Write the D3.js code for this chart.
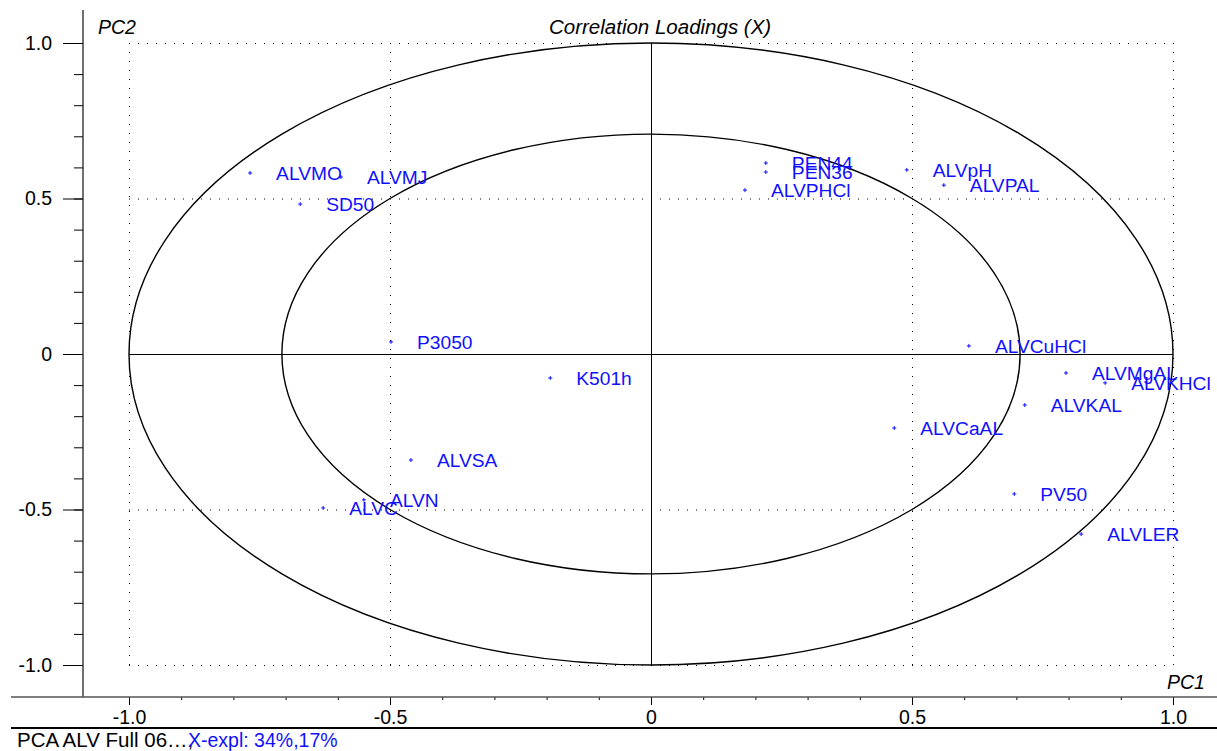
<!DOCTYPE html>
<html>
<head>
<meta charset="utf-8">
<script src="https://cdn.jsdelivr.net/npm/d3@7"></script>
<style>
  html, body { margin: 0; padding: 0; background: #fff; }
  svg { display: block; font-family: "Liberation Sans", Arial, sans-serif; }
</style>
</head>
<body>
<svg id="chart" width="1217" height="751"></svg>
<script>
// ---- data ----
const labels = ["ALVMO","ALVMJ","SD50","PEN44","PEN36","ALVPHCl","ALVpH","ALVPAL","ALVCuHCl","ALVMgAL","ALVKHCl","ALVKAL","ALVCaAL","PV50","ALVLER","P3050","K501h","ALVSA","ALVN","ALVC"];
const pc1 = [-0.768,-0.594,-0.672,0.220,0.220,0.180,0.490,0.561,0.609,0.795,0.870,0.716,0.466,0.696,0.824,-0.498,-0.193,-0.460,-0.550,-0.628];
const pc2 = [0.582,0.569,0.482,0.614,0.585,0.527,0.592,0.543,0.026,-0.061,-0.093,-0.164,-0.238,-0.450,-0.579,0.039,-0.077,-0.341,-0.469,-0.495];
const majorTicks = [-1.0,-0.5,0,0.5,1.0];
const tickLabels = ["-1.0","-0.5","0","0.5","1.0"];
const minorTicks = d3.range(-10, 11).map(d => d / 10);
const ellipseRadii = [1, Math.SQRT1_2];
const title = "Correlation Loadings (X)";
const footerName = "PCA ALV Full 06…,";
const footerExpl = "X-expl: 34%,17%";

// ---- layout ----
const svg = d3.select("#chart");
const x = d3.scaleLinear().domain([-1, 1]).range([129, 1173]);
const y = d3.scaleLinear().domain([-1, 1]).range([665, 43]);
const blue = "#1010ff";
const font = "Liberation Sans, Arial, sans-serif";

// dotted grid
const grid = svg.append("g").attr("stroke", "#000").attr("stroke-width", 1)
  .attr("stroke-dasharray", "1,8").attr("fill", "none");
[-1, -0.5, 0.5, 1].forEach(v => {
  grid.append("line").attr("x1", x(v) + 0.5).attr("x2", x(v) + 0.5)
    .attr("y1", y(1)).attr("y2", y(-1));
  grid.append("line").attr("y1", y(v) + 0.5).attr("y2", y(v) + 0.5)
    .attr("x1", x(-1)).attr("x2", x(1));
});

// origin cross
svg.append("line").attr("x1", x(0) + 0.5).attr("x2", x(0) + 0.5)
  .attr("y1", y(1)).attr("y2", y(-1)).attr("stroke", "#000").attr("stroke-width", 1);
svg.append("line").attr("x1", x(-1)).attr("x2", x(1))
  .attr("y1", y(0) + 0.5).attr("y2", y(0) + 0.5).attr("stroke", "#000").attr("stroke-width", 1);

// ellipses
svg.selectAll("ellipse.r").data(ellipseRadii).join("ellipse")
  .attr("cx", x(0)).attr("cy", y(0))
  .attr("rx", d => x(d) - x(0)).attr("ry", d => y(0) - y(d))
  .attr("fill", "none").attr("stroke", "#000").attr("stroke-width", 1.4);

// axes
const xAxisG = svg.append("g").attr("transform", "translate(0,697)");
xAxisG.call(d3.axisBottom(x).tickValues(minorTicks).tickSize(3).tickFormat(""))
  .call(g => g.select(".domain").remove());
xAxisG.append("g").call(d3.axisBottom(x).tickValues(majorTicks).tickSize(8)
  .tickFormat((d, i) => tickLabels[i]))
  .call(g => g.select(".domain").remove())
  .call(g => g.selectAll("text").attr("font-size", 19.5).attr("fill", "#000")
    .attr("font-family", font).attr("dy", "0").attr("y", 27));
xAxisG.selectAll("line").attr("stroke", "#000");

const yAxisG = svg.append("g").attr("transform", "translate(83,0)");
yAxisG.call(d3.axisLeft(y).tickValues(minorTicks).tickSize(9).tickFormat(""))
  .call(g => g.select(".domain").remove());
yAxisG.append("g").call(d3.axisLeft(y).tickValues(majorTicks).tickSize(20)
  .tickFormat((d, i) => tickLabels[i]))
  .call(g => g.select(".domain").remove())
  .call(g => g.selectAll("text").attr("font-size", 19.5).attr("fill", "#000")
    .attr("font-family", font).attr("x", -31));
yAxisG.selectAll("line").attr("stroke", "#000");

// frame lines
svg.append("line").attr("x1", 83).attr("x2", 83).attr("y1", 10).attr("y2", 697)
  .attr("stroke", "#222").attr("stroke-width", 1.3);
svg.append("line").attr("x1", 11).attr("x2", 1217).attr("y1", 697).attr("y2", 697)
  .attr("stroke", "#555").attr("stroke-width", 1.6);
svg.append("line").attr("x1", 11).attr("x2", 1217).attr("y1", 728).attr("y2", 728)
  .attr("stroke", "#000").attr("stroke-width", 2.2);

// titles
svg.append("text").attr("x", 549).attr("y", 34).attr("font-size", 20.5)
  .attr("font-style", "italic").attr("fill", "#000").text(title);
svg.append("text").attr("x", 98).attr("y", 34).attr("font-size", 19.5)
  .attr("font-style", "italic").attr("fill", "#000").text("PC2");
svg.append("text").attr("x", 1167).attr("y", 689).attr("font-size", 19.5)
  .attr("font-style", "italic").attr("fill", "#000").text("PC1");

// points
const data = labels.map((l, i) => ({ l, a: pc1[i], b: pc2[i] }));
svg.append("g").selectAll("path").data(data).join("path")
  .attr("d", d => `M${x(d.a) - 2},${y(d.b)}H${x(d.a) + 2}M${x(d.a)},${y(d.b) - 2}V${y(d.b) + 2}`)
  .attr("stroke", blue).attr("stroke-width", 1);
svg.append("g").selectAll("text").data(data).join("text")
  .attr("x", d => x(d.a) + 26).attr("y", d => y(d.b) + 7)
  .attr("font-size", 19.2).attr("fill", blue).text(d => d.l);

// footer
svg.append("text").attr("x", 17).attr("y", 747).attr("font-size", 20.5).attr("fill", "#000").text(footerName);
svg.append("text").attr("x", 188).attr("y", 747).attr("font-size", 19.5).attr("fill", blue).text(footerExpl);
</script>
</body>
</html>
